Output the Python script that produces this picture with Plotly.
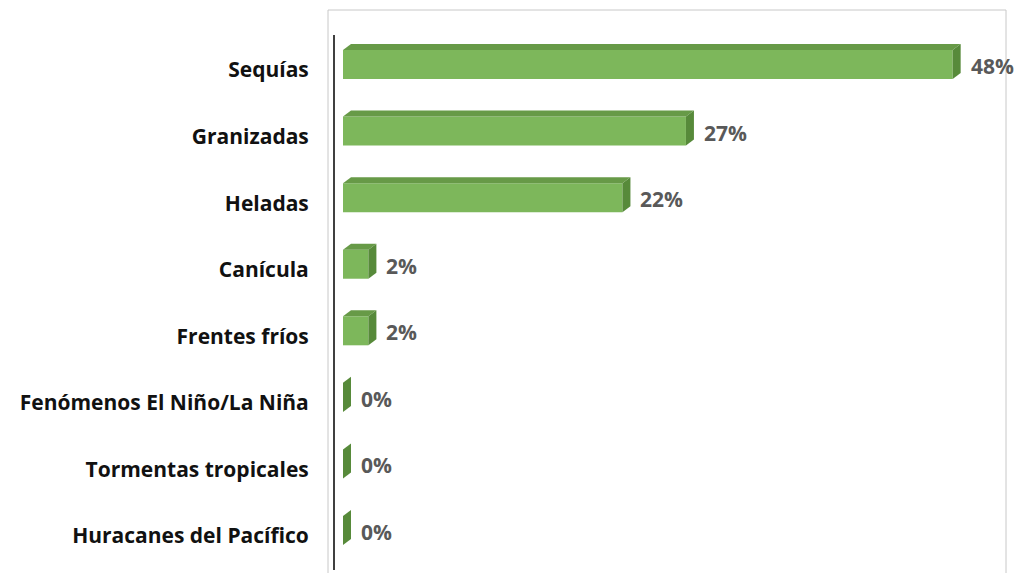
import plotly.graph_objects as go

categories = ["Sequías", "Granizadas", "Heladas", "Canícula", "Frentes fríos",
              "Fenómenos El Niño/La Niña", "Tormentas tropicales", "Huracanes del Pacífico"]
values = [48, 27, 22, 2, 2, 0, 0, 0]
labels = ["48%", "27%", "22%", "2%", "2%", "0%", "0%", "0%"]

W, H = 1019, 573
ML, MR, MT, MB = 335, 13, 35, 3
PW, PH = W - ML - MR, H - MT - MB
XR = [-0.63, 52.2]
YR = [7.51, -0.526]
pxx = PW / (XR[1] - XR[0])
pxy = PH / (YR[0] - YR[1])
DX = 8 / pxx          # depth offset in x data units
DY = 6 / pxy          # depth offset in y data units
BW = 0.436            # bar thickness
OFF = -0.083 - BW / 2  # shift of bar front relative to category

FRONT = "#7db75b"
TOP = "#679a47"
SIDE = "#578a3a"

ypos = list(range(len(categories)))

fig = go.Figure()
fig.add_trace(go.Bar(
    x=values, y=ypos, orientation="h", width=BW, offset=OFF,
    marker=dict(color=FRONT, line=dict(width=0)), hoverinfo="skip",
))

shapes = []
for yi, v in zip(ypos, values):
    ytop = yi + OFF
    ybot = yi + OFF + BW
    shapes.append(dict(
        type="path", xref="x", yref="y", line=dict(width=0), fillcolor=TOP, layer="above",
        path=f"M 0 {ytop} L {v} {ytop} L {v + DX} {ytop - DY} L {DX} {ytop - DY} Z"))
    shapes.append(dict(
        type="path", xref="x", yref="y", line=dict(width=0), fillcolor=SIDE, layer="above",
        path=f"M {v} {ytop} L {v + DX} {ytop - DY} L {v + DX} {ybot - DY} L {v} {ybot} Z"))

# outer chart frame
shapes.append(dict(type="rect", xref="paper", yref="paper",
                   x0=(328 - ML) / PW, x1=1.0, y0=-0.05, y1=1 + 25 / PH,
                   line=dict(color="#c8c8c8", width=1), fillcolor="rgba(0,0,0,0)", layer="below"))

annotations = []
for yi, v, t in zip(ypos, values, labels):
    annotations.append(dict(x=v, y=yi, xref="x", yref="y", text=t, showarrow=False,
                            xanchor="left", yanchor="middle", xshift=16, yshift=4,
                            font=dict(family="Open Sans", size=21, color="#595959", weight="bold")))

fig.update_layout(
    width=W, height=H, margin=dict(l=ML, r=MR, t=MT, b=MB),
    paper_bgcolor="white", plot_bgcolor="white", showlegend=False,
    shapes=shapes, annotations=annotations,
    xaxis=dict(range=XR, showgrid=False, zeroline=False, showticklabels=False, showline=False),
    yaxis=dict(range=YR, tickvals=ypos, ticktext=categories, showgrid=False, zeroline=False,
               showline=True, linecolor="#404040", linewidth=2, ticks="",
               ticklabelstandoff=20,
               tickfont=dict(family="Open Sans", size=21, color="#111111", weight="bold")),
)

fig.write_html("out.html", config={"displayModeBar": False},
               post_script="document.body.style.margin='0';document.body.style.overflow='hidden';")
